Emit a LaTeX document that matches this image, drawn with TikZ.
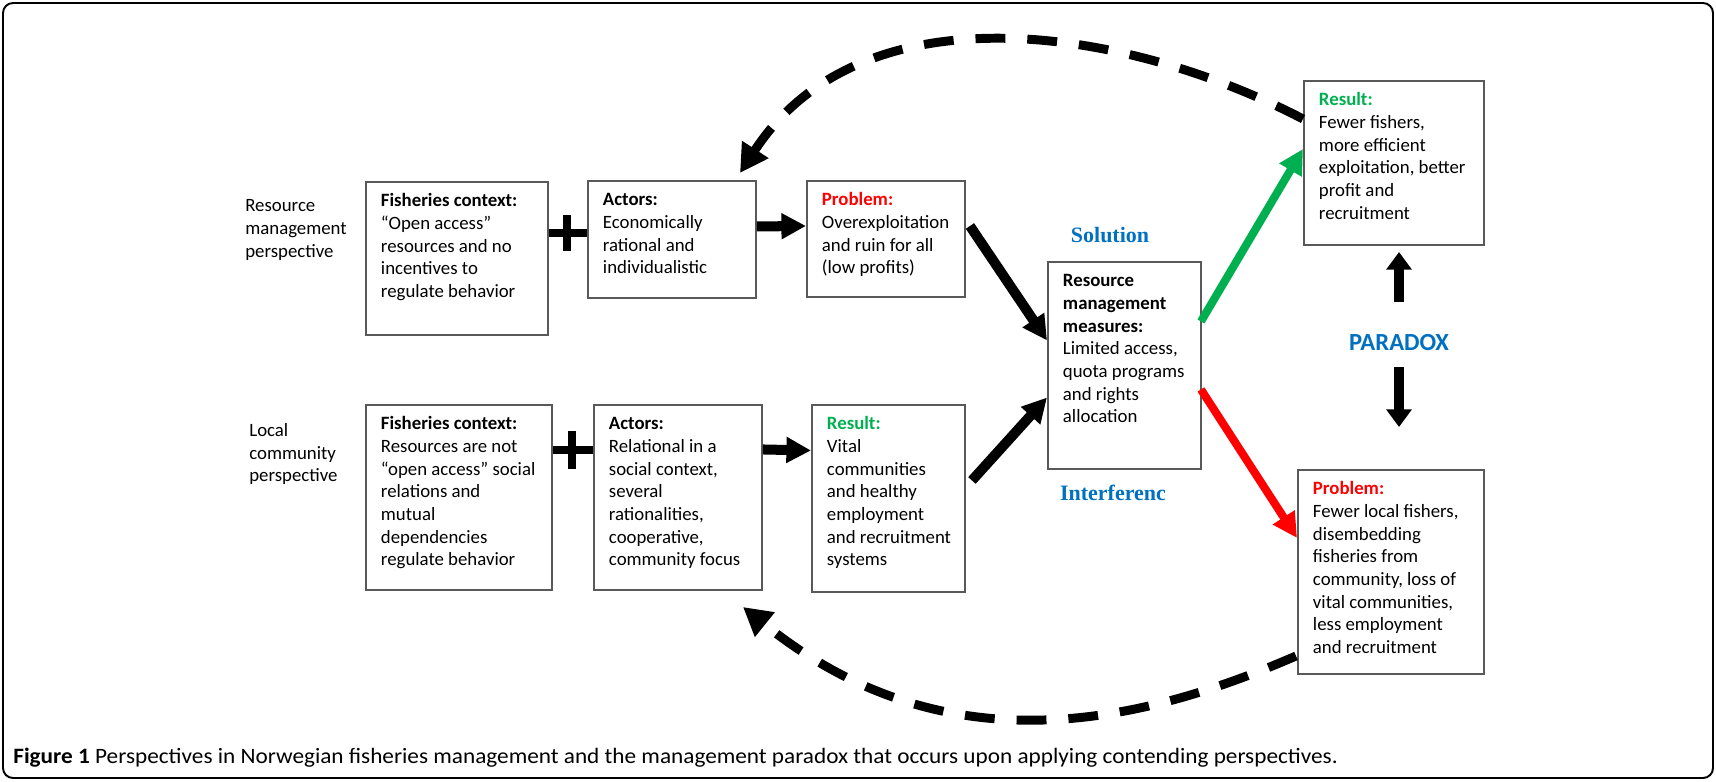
\documentclass[tikz,border=0pt]{standalone}
\usepackage{fontspec}
\setmainfont{Carlito}
\newfontfamily\serifbold{Liberation Serif}
\newfontfamily\capfont[FakeStretch=1.058]{Carlito}
\usetikzlibrary{arrows.meta,calc}

\definecolor{pblue}{RGB}{0,112,192}
\definecolor{rgreen}{RGB}{0,176,80}
\definecolor{pred}{RGB}{255,0,0}

\newdimen\pxu
\pxu=0.02cm
% fixed size box, text at the top
\newcommand{\boxtext}[3]{\parbox[c][#2\pxu][t]{#1\pxu}{\begin{tabular}[t]{@{}l@{}}#3\end{tabular}}}

\begin{document}
\begin{tikzpicture}[x=0.02cm, y=-0.02cm,
    txt/.style={font=\fontsize{10.7}{12.9}\selectfont},
    fbox/.style={draw=black!65, line width=1.1pt, anchor=north west,
        inner xsep=15\pxu, inner ysep=9\pxu, txt},
    bigarrow/.style={line width=5.7pt, -{Triangle[length=14pt, width=14pt]}},
    pdxarrow/.style={line width=5.4pt, -{Triangle[length=10pt, width=14pt]}},
    dasharrow/.style={line width=5.1pt, dash pattern=on 17pt off 12.5pt,
        -{Triangle[length=16pt, width=17pt]}},
    plusbar/.style={line width=5pt},
    bluelbl/.style={text=pblue, font=\serifbold\bfseries\fontsize{12.5}{14}\selectfont}]

    \useasboundingbox (0,0) rectangle (1716,781);
    \draw[line width=1.1pt, rounded corners=0.2cm] (3,3) rectangle (1713,778);

    % left labels
    \node[txt, anchor=west, align=left, inner sep=0pt] (L1) at (245,230) {Resource\\management\\perspective};
    \node[txt, anchor=west, align=left, inner sep=0pt] (L2) at (249,454) {Local\\community\\perspective};

    % resource management row
    \node[fbox] (F1) at (365,181) {\boxtext{152}{135}{\textbf{Fisheries context:}\\“Open access”\\resources and no\\incentives to\\regulate behavior}};
    \node[fbox] (A1) at (587,180) {\boxtext{138}{99}{\textbf{Actors:}\\Economically\\rational and\\individualistic}};
    \node[fbox] (P1) at (806,180) {\boxtext{128}{98}{\textcolor{pred}{\textbf{Problem:}}\\Overexploitation\\and ruin for all\\(low profits)}};

    % local community row
    \node[fbox] (F2) at (365,404) {\boxtext{156}{167}{\textbf{Fisheries context:}\\Resources are not\\“open access” social\\relations and\\mutual\\dependencies\\regulate behavior}};
    \node[fbox] (A2) at (593,404) {\boxtext{138}{167}{\textbf{Actors:}\\Relational in a\\social context,\\several\\rationalities,\\cooperative,\\community focus}};
    \node[fbox] (R2) at (811,404) {\boxtext{123}{169}{\textcolor{rgreen}{\textbf{Result:}}\\Vital\\communities\\and healthy\\employment\\and recruitment\\systems}};

    % measures and outcomes
    \node[fbox] (M) at (1047,261) {\boxtext{123}{189}{\textbf{Resource}\\\textbf{management}\\\textbf{measures:}\\Limited access,\\quota programs\\and rights\\allocation}};
    \node[fbox] (R) at (1303,80) {\boxtext{150}{146}{\textcolor{rgreen}{\textbf{Result:}}\\Fewer fishers,\\more efficient\\exploitation, better\\profit and\\recruitment}};
    \node[fbox] (P2) at (1297,469) {\boxtext{156}{186}{\textcolor{pred}{\textbf{Problem:}}\\Fewer local fishers,\\disembedding\\fisheries from\\community, loss of\\vital communities,\\less employment\\and recruitment}};

    \node[bluelbl] (S) at (1110,235) {Solution};
    \node[bluelbl] (I) at (1113,493) {Interferenc};
    \node[text=pblue, font=\bfseries\fontsize{14}{16}\selectfont] (X) at (1399,343) {PARADOX};

    % plus signs
    \coordinate (plus1) at (567,233);
    \coordinate (plus2) at (572,450);
    \draw[plusbar] (F1.east |- plus1) -- (A1.west |- plus1);
    \draw[plusbar] (plus1) ++(0,-18) -- ++(0,36);
    \draw[plusbar] (F2.east |- plus2) -- (A2.west |- plus2);
    \draw[plusbar] (plus2) ++(0,-19) -- ++(0,38);

    % arrows
    \draw[bigarrow] ($(A1.east)+(0,-13)$) -- ($(P1.west)+(0,-13)$);
    \draw[bigarrow] ($(A2.east)+(0,-48)$) -- ($(R2.west)+(0,-48)$);
    \draw[bigarrow] ($(P1.east)+(4,-13)$) -- ($(M.west)+(0,-25)$);
    \draw[bigarrow] ($(R2.east)+(6,-18)$) -- ($(M.west)+(0,32)$);
    \draw[bigarrow, rgreen, line width=4.6pt] ($(M.east)+(-1,-44)$) -- ($(R.west)+(0,-14)$);
    \draw[bigarrow, pred, line width=4.6pt] ($(M.east)+(-1,24)$) -- ($(P2.west)+(0,-34)$);
    \draw[pdxarrow] ($(X)+(0,-41)$) -- ($(X)+(0,-91)$);
    \draw[pdxarrow] ($(X)+(0,24)$) -- ($(X)+(0,84)$);

    % feedback loops
    \coordinate (topTip) at (740,173);
    \coordinate (botTip) at (743,607);
    \draw[dasharrow] ($(R.west)+(0,-44)$) .. controls (1124,26) and (862,-14) .. (topTip);
    \draw[dasharrow] ($(P2.west)+(-1,84)$) .. controls (1128,729) and (939,765) .. (botTip);

    \node[anchor=base west, inner sep=0pt, font=\capfont\fontsize{12.5}{14}\selectfont] (cap) at (13,763)
        {\textbf{Figure 1} Perspectives in Norwegian fisheries management and the management paradox that occurs upon applying contending perspectives.};
\end{tikzpicture}
\end{document}
